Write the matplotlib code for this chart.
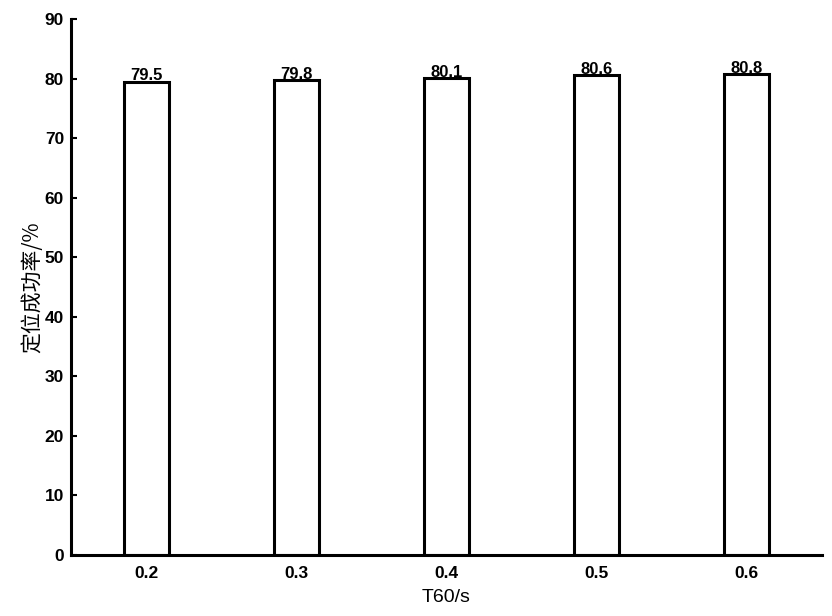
import matplotlib
matplotlib.use("Agg")
import matplotlib.pyplot as plt

categories = ["0.2", "0.3", "0.4", "0.5", "0.6"]
values = [79.5, 79.8, 80.1, 80.6, 80.8]
yticks = [0, 10, 20, 30, 40, 50, 60, 70, 80, 90]

plt.rcParams['font.family'] = ['Liberation Sans', 'Noto Sans CJK SC', 'DejaVu Sans']

fig = plt.figure(figsize=(8.32, 6.16), dpi=100)
ax = fig.add_axes([0.0853, 0.099, 0.9027, 0.870])

pos = list(range(1, len(categories) + 1))
ax.bar(pos, values, width=0.3, color='white', edgecolor='black', linewidth=2.2)
for p, v in zip(pos, values):
    ax.text(p, v - 0.3, f"{v:.1f}", ha='center', va='bottom', fontsize=12, fontweight='bold')

ax.set_xlim(0.5, 5.5)
ax.set_ylim(0, 90)
ax.set_xticks(pos)
ax.set_xticklabels(categories, fontweight='bold')
ax.set_yticks(yticks)
ax.set_yticklabels([str(t) for t in yticks], fontweight='bold')
ax.tick_params(axis='x', length=0, pad=8, labelsize=12.5)
ax.tick_params(axis='y', direction='in', length=4, width=1.5, labelsize=12.5, pad=5)
for s in ['top', 'right']:
    ax.spines[s].set_visible(False)
for s in ['left', 'bottom']:
    ax.spines[s].set_linewidth(2.2)

ax.set_xlabel("T60/s", fontsize=14, labelpad=6)
ax.set_ylabel("定位成功率/%", fontsize=15, family=['Noto Sans CJK SC', 'DejaVu Sans'], labelpad=1)

fig.savefig("out.png", dpi=100)
